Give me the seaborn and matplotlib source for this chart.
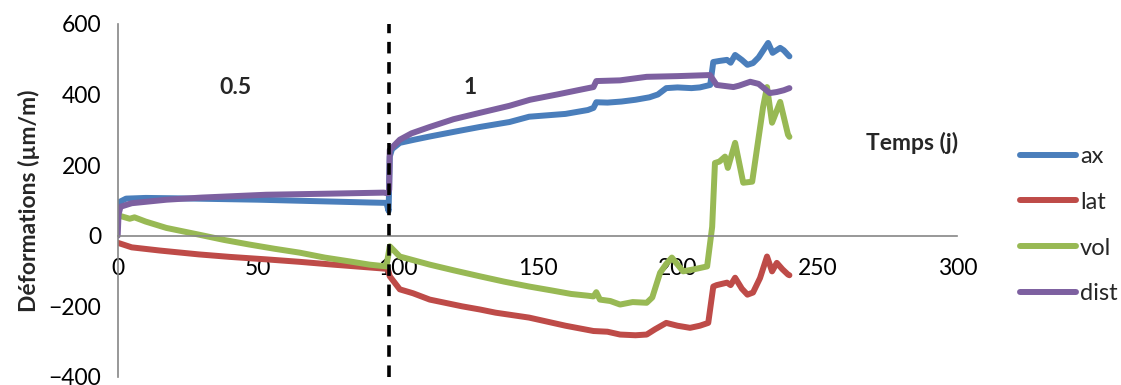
import numpy as np
import pandas as pd
import matplotlib
matplotlib.use("Agg")
import matplotlib.pyplot as plt
import seaborn as sns

# ------------------------------------------------
# Data
# ------------------------------------------------
ax_t = [0, 0.5, 3, 10, 20, 35, 50, 65, 80, 90, 96, 96.8, 97.2, 98, 100.8, 106, 111.5,
        122, 129.4, 140, 147, 160, 168, 170, 171, 175, 180, 185, 190, 193, 196, 200,
        205, 208, 211.7, 212.8, 215, 217.7, 219, 220.6, 223, 225, 227, 229, 232.4,
        234, 236.7, 238, 239.5, 240]
ax_v = [85, 95, 105, 107, 106, 104, 102, 99, 96, 94, 93, 70, 224, 245, 263, 272, 281,
        297, 308, 322, 337, 345, 356, 362, 378, 377, 380, 385, 392, 400, 418, 420,
        418, 420, 427, 492, 495, 498, 490, 512, 498, 484, 489, 505, 546,
        518, 532, 525, 512, 508]

lat_t = [0, 5, 15, 29, 40, 53, 65, 77, 90, 96.5, 97.2, 100.8, 105.5, 111.5, 123, 129.4,
         135, 147, 160, 170, 175, 179.5, 185, 189, 192, 196, 200, 204.5, 208, 211,
         212.8, 214, 217.7, 219, 220.6, 223, 225, 227, 229.5, 232, 233.8, 235.5,
         237.5, 239.5, 240]
lat_v = [-20, -33, -42, -53, -60, -67, -74, -82, -90, -94, -115, -152, -163, -181, -200,
         -209, -218, -232, -255, -270, -272, -280, -282, -280, -265, -247, -255, -261,
         -255, -247, -144, -140, -133, -140, -119, -150, -167, -161, -120, -59, -101,
         -77, -95, -110, -112]

vol_t = [0.5, 1.3, 4.3, 6, 10, 17.4, 29, 38, 47, 56, 65, 74, 83, 90, 96, 97.2, 100.8,
         111.5, 120, 129.4, 138, 147, 155, 162, 168, 170, 171, 172.3, 176, 179.5,
         184, 189, 191, 193.8, 196, 198, 202, 206, 210.6, 212.4, 213.4, 215, 217,
         218, 220.6, 223.5, 226.7, 230.6, 232, 233.8, 236.7, 239.5, 240]
vol_v = [55, 55, 48, 52, 40, 22, 3, -12, -25, -37, -48, -62, -73, -82, -87, -30, -59,
         -82, -98, -115, -130, -144, -155, -165, -170, -172, -160, -181, -185, -195,
         -188, -190, -175, -105, -80, -62, -101, -95, -87, 25, 206, 210, 224,
         192, 263, 150, 153, 365, 421, 320, 379, 286, 280]

dist_t = [0, 0.3, 1, 5, 17.5, 30, 53, 75, 95, 96.5, 97, 97.2, 100.8, 105, 111.5, 120,
          129.4, 140, 147.3, 157, 165, 170, 171, 179.5, 189, 200, 211.6, 214, 220,
          222, 226, 229, 233, 235.5, 238, 240]
dist_v = [0, 60, 82, 92, 102, 108, 116, 119, 122, 120, 130, 243, 272, 290, 308, 330,
          348, 368, 385, 400, 413, 421, 438, 440, 450, 452, 455, 427, 421, 425, 436,
          430, 404, 407, 412, 418]

series = ["ax", "lat", "vol", "dist"]
colors = ["#4A7EBB", "#BE4B48", "#98B954", "#7D60A0"]
x_ticks = [0, 50, 100, 150, 200, 250, 300]
y_ticks = [-400, -200, 0, 200, 400, 600]
t_change = 97
phase_labels = ["0.5", "1"]

frames = []
for name, t, v in zip(series, [ax_t, lat_t, vol_t, dist_t], [ax_v, lat_v, vol_v, dist_v]):
    d = pd.DataFrame({"t": t, "val": v})
    d["serie"] = name
    frames.append(d)
df = pd.concat(frames, ignore_index=True)

# ------------------------------------------------
# Plot
# ------------------------------------------------
sns.set_theme(style="white")
plt.rcParams["font.family"] = ["Lato", "DejaVu Sans"]
FS = 16.5

fig = plt.figure(figsize=(11.21, 3.85), dpi=100)
ax = fig.add_axes([0.105, 0.021, 0.749, 0.917])

sns.lineplot(data=df, x="t", y="val", hue="serie", hue_order=series,
             palette=colors, estimator=None, sort=False, units="serie",
             linewidth=4.3, ax=ax, legend=True)

ax.axvline(t_change, color="black", lw=2.6, linestyle=(0, (3.2, 2.4)), zorder=5)

ax.set_xlim(0, 300)
ax.set_ylim(-400, 600)
ax.set_xticks(x_ticks)
ax.set_yticks(y_ticks)

for s in ["top", "right"]:
    ax.spines[s].set_visible(False)
ax.spines["bottom"].set_position(("data", 0))
for s in ["left", "bottom"]:
    ax.spines[s].set_color("#868686")
    ax.spines[s].set_linewidth(1.2)
ax.tick_params(axis="both", direction="out", length=6, width=1.2, color="#868686",
               labelsize=FS, labelcolor="black")
ax.tick_params(axis="x", pad=10)
ax.tick_params(axis="y", pad=6)

ax.set_xlabel("")
ax.set_ylabel("Déformations (µm/m)", fontsize=FS, fontweight="bold", labelpad=6)

ax.text(42, 419, phase_labels[0], fontsize=FS, fontweight="bold", ha="center", va="center")
ax.text(126, 419, phase_labels[1], fontsize=FS, fontweight="bold", ha="center", va="center")
ax.text(284, 263, "Temps (j)", fontsize=FS, fontweight="bold", ha="center", va="center")

handles, labels = ax.get_legend_handles_labels()
for h in handles:
    h.set_linewidth(4.3)
ax.legend(handles, labels, loc="center left", bbox_to_anchor=(1.063, 0.43),
          frameon=False, fontsize=FS + 0.5, handlelength=2.4, handletextpad=0.15,
          labelspacing=1.05, borderaxespad=0)

plt.savefig("out.png", dpi=100)
